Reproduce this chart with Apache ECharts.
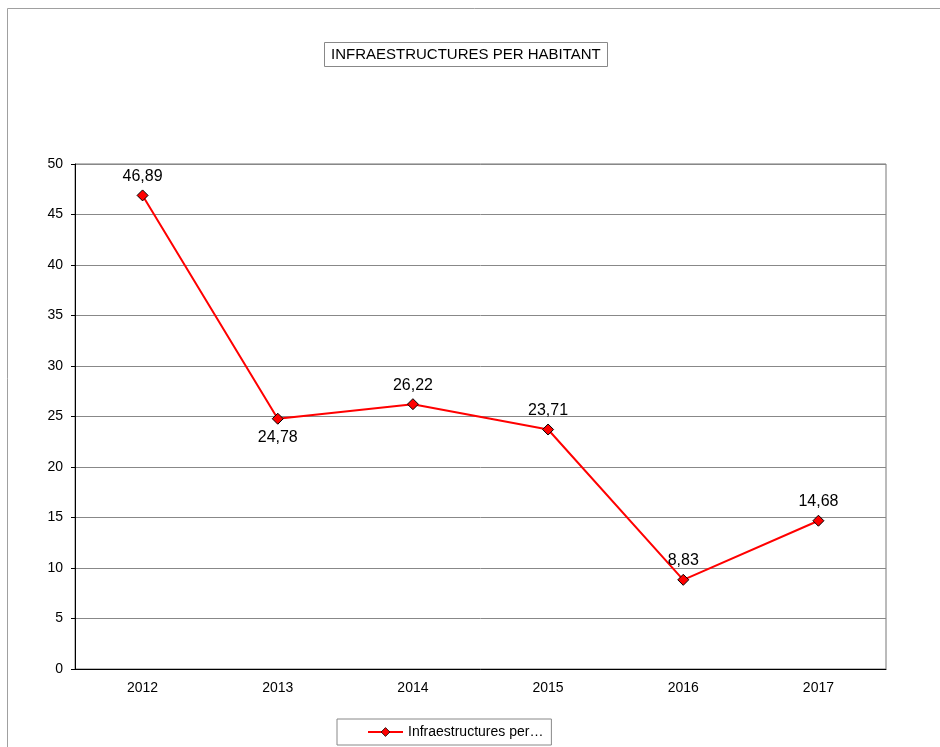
<!DOCTYPE html>
<html>
<head>
<meta charset="utf-8">
<script src="https://cdn.jsdelivr.net/npm/echarts@6/dist/echarts.min.js"></script>
<style>
  html, body { margin: 0; padding: 0; background: #fff; }
  #chart { width: 940px; height: 747px; }
</style>
</head>
<body>
<div id="chart"></div>
<script>
const years = ["2012", "2013", "2014", "2015", "2016", "2017"];
const values = [46.89, 24.78, 26.22, 23.71, 8.83, 14.68];
// which labels sit under the point
const labelBelow = [false, true, false, false, false, false];

const chart = echarts.init(document.getElementById("chart"));

const font = "Liberation Sans, Arial, sans-serif";

const option = {
  animation: false,
  backgroundColor: "#fff",
  graphic: [
    {
      type: "rect",
      shape: { x: 7.5, y: 8.5, width: 2000, height: 2000 },
      style: { fill: "none", stroke: "#a0a0a0", lineWidth: 1 },
      silent: true,
    },
  ],
  title: {
    text: "INFRAESTRUCTURES PER HABITANT",
    left: 324,
    top: 42,
    padding: [5, 7, 5, 7],
    borderColor: "#888",
    borderWidth: 1,
    textStyle: {
      fontFamily: font,
      fontSize: 15,
      fontWeight: "normal",
      color: "#000",
    },
  },
  legend: {
    left: 337,
    top: 719,
    padding: [6, 8, 6, 30],
    itemWidth: 35,
    itemHeight: 11,
    borderColor: "#888",
    borderWidth: 1,
    formatter: () => "Infraestructures per…",
    itemStyle: { borderWidth: 0.8 },
    textStyle: { fontFamily: font, fontSize: 14, color: "#000" },
  },
  grid: {
    left: 75,
    right: 54,
    top: 164,
    bottom: 78,
    show: true,
    borderColor: "#777",
    borderWidth: 1,
  },
  xAxis: {
    type: "category",
    data: years,
    boundaryGap: true,
    axisLine: { lineStyle: { color: "#000", width: 1 } },
    axisTick: { inside: true, length: 5, lineStyle: { color: "#999" } },
    axisLabel: { margin: 12, fontFamily: font, fontSize: 14, color: "#000" },
    splitLine: { show: false },
  },
  yAxis: {
    type: "value",
    min: 0,
    max: 50,
    interval: 5,
    axisLine: { show: true, lineStyle: { color: "#000", width: 1 } },
    axisTick: { show: true, length: 4, lineStyle: { color: "#000" } },
    axisLabel: { margin: 12, fontFamily: font, fontSize: 14, color: "#000" },
    splitLine: { lineStyle: { color: "#888", width: 1 } },
  },
  series: [
    {
      name: "Infraestructures per habitant",
      type: "line",
      data: values.map((v, i) => ({
        value: v,
        label: { position: labelBelow[i] ? "bottom" : "top" },
      })),
      symbol: "diamond",
      symbolSize: 11,
      lineStyle: { color: "#ff0000", width: 2 },
      itemStyle: { color: "#ff0000", borderColor: "#000", borderWidth: 1 },
      label: {
        show: true,
        distance: 5,
        fontFamily: font,
        fontSize: 16,
        color: "#000",
        formatter: (p) => p.value.toFixed(2).replace(".", ","),
      },
    },
  ],
};

chart.setOption(option);
</script>
</body>
</html>
